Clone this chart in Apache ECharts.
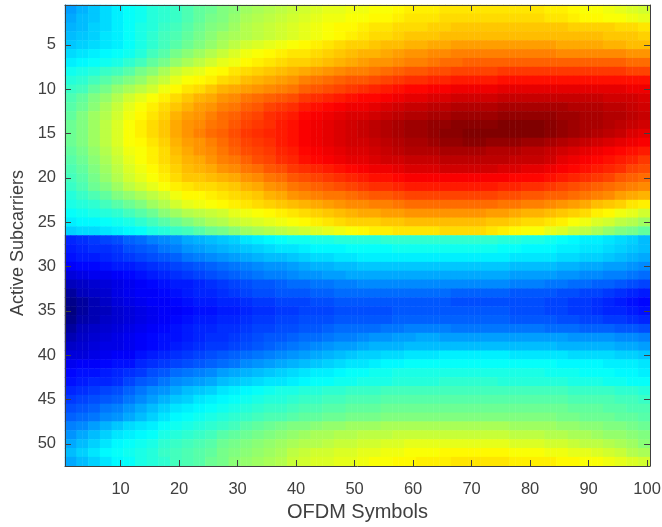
<!DOCTYPE html>
<html>
<head>
<meta charset="utf-8">
<style>html,body{margin:0;padding:0;background:#fff}#c{width:662px;height:527px}</style>
<script src="https://cdn.jsdelivr.net/npm/echarts@6/dist/echarts.min.js"></script>
</head>
<body>
<div id="c"></div>
<script>
// Values on a 0-100 colour scale; each entry covers two OFDM symbols.
const r01=[28,30,32,34,36,38,39,41,42,43,45,47,48,50,51,53,54,55,56,57,58,59,60,60,61,61,62,62,63,64,64,64,65,65,65,65,65,65,65,65,65,64,64,63,62,62,61,60,59,58];
const r02=[29,31,32,34,36,38,39,41,42,43,45,47,49,50,52,54,55,56,57,58,59,60,61,61,62,62,63,63,64,65,65,65,66,66,66,66,66,66,66,66,66,65,65,64,63,63,62,62,61,60];
const r03=[30,31,33,34,36,38,40,41,43,44,46,48,50,51,53,55,56,57,58,59,60,61,62,63,63,64,65,65,66,66,66,67,67,68,68,68,68,68,68,68,68,68,68,67,67,67,67,66,66,65];
const r04=[31,32,33,35,36,38,40,42,44,45,47,49,51,53,54,55,56,57,58,59,60,61,62,63,64,65,66,66,67,68,68,68,69,69,69,69,69,69,69,69,69,69,69,69,69,69,68,68,68,67];
const r05=[32,33,34,35,36,38,40,42,44,46,48,50,52,54,56,58,59,60,61,62,63,64,65,66,67,67,68,69,69,70,70,71,71,72,72,72,72,72,72,72,72,72,71,71,71,71,70,70,69,69];
const r06=[34,35,36,37,38,39,41,44,46,49,51,53,55,57,59,61,62,63,64,65,65,66,67,68,69,70,70,71,72,73,73,74,74,75,75,75,75,75,75,75,75,75,74,74,74,74,74,74,73,73];
const r07=[36,37,38,39,40,42,44,47,49,52,54,56,58,60,61,63,64,65,66,67,67,68,69,70,71,72,73,73,74,75,75,76,77,77,78,78,78,78,78,78,78,78,78,78,78,78,78,78,77,77];
const r08=[39,40,41,43,44,46,49,51,54,57,59,60,62,63,65,66,67,68,69,70,71,72,73,74,75,75,76,77,78,79,79,80,80,81,81,81,81,82,82,82,82,82,82,82,82,82,82,82,81,81];
const r09=[41,42,44,46,48,50,52,55,57,60,62,63,64,66,67,69,70,71,72,73,75,76,77,78,79,79,80,81,82,83,83,84,84,85,85,85,85,86,86,86,86,86,86,86,86,86,86,86,86,86];
const r10=[43,44,47,49,52,54,56,58,61,63,65,66,68,70,71,72,73,74,75,76,78,79,80,81,82,83,84,85,86,87,87,88,88,89,89,89,89,90,90,90,90,90,90,90,90,90,90,90,89,89];
const r11=[45,47,50,52,55,58,60,62,64,66,68,70,71,73,74,76,77,78,79,80,82,83,84,85,86,87,87,88,89,90,90,91,91,92,92,92,92,93,93,93,93,93,93,93,93,93,92,92,92,91];
const r12=[46,48,51,54,57,60,62,64,66,68,70,72,73,75,76,78,79,81,82,83,85,86,87,88,89,89,90,91,92,93,93,94,94,95,95,95,95,96,96,96,96,96,96,95,95,95,94,94,93,92];
const r13=[47,50,53,55,58,61,63,65,67,70,72,73,75,77,78,80,81,83,84,85,87,88,89,90,91,91,92,93,94,95,95,96,96,97,97,97,97,98,98,98,98,98,97,97,96,96,95,95,94,93];
const r14=[48,50,53,56,59,62,64,66,68,71,73,74,76,77,79,81,82,83,85,86,88,89,90,91,92,93,94,95,96,97,97,98,98,99,99,99,99,100,100,100,100,99,98,97,96,96,95,94,93,92];
const r15=[48,50,53,56,59,62,64,66,68,71,73,75,77,78,80,82,83,84,85,86,88,89,90,91,92,93,94,95,96,97,97,98,99,99,100,100,100,100,100,100,100,99,98,97,96,95,94,93,91,90];
const r16=[48,50,53,56,59,62,63,65,67,70,72,73,75,77,79,81,82,83,85,86,88,89,90,91,92,92,93,94,95,96,96,97,98,98,99,99,98,98,98,97,97,96,95,94,93,92,91,90,89,88];
const r17=[47,49,52,55,58,61,62,64,66,69,71,73,74,76,78,80,81,82,84,85,87,88,89,90,91,91,92,93,94,95,95,95,96,96,96,96,95,95,95,94,94,93,92,91,90,89,88,87,86,85];
const r18=[46,48,51,54,57,60,62,64,66,68,70,71,73,75,76,78,80,81,83,84,86,87,88,89,90,90,91,92,92,93,93,93,94,94,94,94,94,94,93,93,93,92,90,89,88,87,86,85,84,82];
const r19=[45,47,50,53,56,59,61,63,65,67,69,70,71,73,74,76,77,79,80,82,83,84,85,86,87,88,89,89,90,91,91,91,92,92,92,92,92,91,91,90,90,89,88,87,86,85,84,83,81,80];
const r20=[44,46,49,52,55,58,60,62,64,66,68,68,69,70,71,73,74,76,77,79,80,81,82,83,84,85,86,86,87,88,88,88,88,88,88,88,88,88,87,87,87,86,85,84,83,82,81,79,78,77];
const r21=[43,45,48,50,53,56,58,60,62,64,65,66,66,67,68,70,71,73,74,76,77,78,79,80,81,82,83,83,84,85,85,85,85,85,85,85,85,84,84,83,83,82,81,80,79,78,77,76,75,74];
const r22=[41,43,45,47,50,52,54,56,58,61,63,63,64,65,66,67,68,70,71,73,74,75,76,76,77,78,79,79,80,81,81,81,81,81,81,81,81,80,80,79,79,78,78,77,76,75,74,72,71,70];
const r23=[40,41,42,44,46,48,50,53,55,58,60,61,62,63,64,65,66,67,68,69,70,71,72,73,74,74,75,75,76,77,77,77,77,77,77,77,77,76,76,75,75,74,73,72,71,69,68,67,65,64];
const r24=[38,39,40,41,42,44,46,48,51,53,55,56,57,58,60,61,62,63,64,65,66,67,68,69,70,71,71,72,72,73,73,73,73,73,73,73,72,72,71,70,70,69,68,67,66,64,63,61,60,58];
const r25=[36,37,37,38,39,40,42,44,46,48,50,52,54,55,57,58,59,60,61,62,63,64,65,66,67,67,67,68,68,69,69,69,69,69,69,69,68,68,67,66,66,65,64,62,61,59,58,56,55,53];
const r26=[33,34,34,35,36,37,38,40,41,43,44,46,48,49,51,53,54,55,56,57,58,59,60,61,62,63,64,64,65,65,65,65,66,66,66,66,65,64,63,62,62,60,59,57,56,54,52,50,49,47];
const r27=[16,17,18,19,20,22,23,25,26,27,29,30,31,32,33,35,36,37,38,39,39,40,40,41,41,41,41,42,42,42,42,42,42,42,42,42,42,41,41,40,40,39,38,37,36,36,35,34,33,31];
const r28=[15,16,17,17,18,20,21,22,24,25,27,28,29,30,31,32,33,34,35,35,36,37,37,37,38,38,38,38,39,39,39,39,39,39,39,39,39,38,38,37,37,37,36,36,35,35,34,33,32,31];
const r29=[14,15,15,16,17,18,19,20,21,22,24,25,26,27,28,29,30,31,31,32,33,34,34,35,35,36,36,36,36,36,36,36,36,36,36,36,36,36,35,35,35,35,34,34,33,33,32,31,30,29];
const r30=[12,13,13,14,15,15,16,17,18,19,20,21,22,23,24,25,26,27,27,28,29,30,30,31,31,32,32,32,32,32,32,32,32,32,32,32,32,32,31,31,31,31,30,30,29,29,28,28,27,26];
const r31=[9,10,11,11,12,13,14,15,16,17,18,19,20,21,22,23,24,25,25,26,27,27,28,28,29,29,29,29,29,29,29,29,29,29,29,29,29,29,28,28,28,28,27,27,26,26,25,25,24,23];
const r32=[6,7,8,9,10,11,12,13,14,15,15,16,17,18,19,20,21,21,22,23,23,24,24,25,25,26,26,26,26,26,26,26,26,26,26,26,26,26,25,25,25,24,24,23,23,22,22,21,20,19];
const r33=[3,6,7,8,10,11,12,12,13,14,15,16,16,17,18,19,20,20,21,21,21,22,22,23,23,23,23,23,23,23,23,23,23,22,22,22,22,22,21,21,21,21,20,20,19,19,18,17,16,15];
const r34=[1,3,5,7,9,10,11,12,12,13,14,15,15,16,16,17,18,18,19,19,19,20,20,21,21,21,21,21,21,21,21,21,21,20,20,20,20,20,20,20,20,19,19,18,18,17,16,15,14,13];
const r35=[0,3,5,6,8,9,10,11,12,12,13,14,14,15,15,16,17,17,18,18,19,19,19,20,20,20,20,20,21,21,21,21,21,21,21,21,21,21,20,20,20,19,19,18,18,17,16,16,15,14];
const r36=[1,4,5,7,8,9,10,11,12,13,14,15,15,16,16,17,18,18,19,19,20,20,20,21,21,21,21,21,22,22,22,22,22,22,22,22,22,22,21,21,21,21,20,20,19,19,18,18,17,16];
const r37=[3,6,7,8,9,10,11,12,13,14,15,16,16,17,17,18,19,19,20,20,21,21,22,23,23,23,23,24,24,25,25,25,25,24,24,24,24,24,24,24,24,23,23,23,22,22,22,21,21,20];
const r38=[5,7,8,9,10,11,12,13,14,14,15,16,17,17,18,19,20,21,21,22,23,23,24,25,25,26,27,27,28,28,29,29,28,28,28,28,28,28,28,28,28,28,28,27,27,27,27,26,26,25];
const r39=[7,8,9,10,10,11,12,13,14,15,16,17,18,18,19,20,21,22,23,24,25,26,27,28,28,29,30,30,30,31,31,31,31,31,31,31,31,31,31,31,31,31,30,30,30,30,30,29,29,28];
const r40=[9,9,10,11,12,12,14,15,16,17,18,19,20,21,22,23,24,25,26,27,28,29,30,31,32,33,33,34,34,35,35,35,36,36,36,36,36,36,35,35,35,35,35,34,34,34,34,33,33,32];
const r41=[11,12,12,13,14,14,16,17,18,19,20,21,22,23,24,26,27,28,29,30,31,32,33,34,35,35,36,37,37,38,38,38,38,38,38,38,38,38,38,38,38,38,37,37,37,37,36,36,36,35];
const r42=[13,14,14,15,16,17,18,20,21,23,24,25,26,28,29,30,31,32,33,34,35,36,36,37,38,38,39,39,40,40,40,40,40,40,40,40,40,40,40,40,40,39,39,39,38,38,38,37,37,36];
const r43=[14,15,16,16,17,19,21,22,24,26,27,28,29,31,32,33,34,35,35,36,37,38,38,39,39,40,40,40,41,41,41,41,42,42,42,42,42,41,41,41,41,41,41,40,40,40,39,39,38,38];
const r44=[16,17,18,19,20,22,24,26,27,29,31,32,33,35,36,37,38,39,40,40,41,41,42,42,43,43,43,44,44,44,44,44,44,44,44,44,44,44,44,44,44,44,44,43,43,43,43,42,42,41];
const r45=[18,19,20,21,22,24,26,28,30,32,33,35,36,37,38,39,40,41,41,42,43,43,44,44,45,45,45,46,46,46,46,46,46,46,46,46,46,46,46,46,46,46,46,45,45,45,45,44,44,43];
const r46=[20,21,22,24,25,27,29,31,33,35,36,37,38,39,40,41,42,43,43,44,45,45,46,46,47,47,47,48,48,48,48,48,48,48,48,48,48,48,48,48,48,48,48,47,47,47,46,46,45,45];
const r47=[22,23,24,26,27,29,31,33,35,37,38,39,40,41,42,43,44,45,45,46,47,47,48,48,49,49,49,50,50,50,50,50,50,50,50,50,50,50,50,50,50,50,49,49,48,48,48,47,47,46];
const r48=[25,26,28,30,32,34,35,36,38,39,40,41,42,43,44,46,47,48,49,50,50,51,52,52,53,53,53,54,54,54,54,54,54,54,54,54,54,54,53,53,53,53,52,52,51,51,50,50,49,48];
const r49=[27,29,31,33,35,36,37,38,40,41,42,43,44,46,47,48,49,50,51,52,53,54,54,55,55,56,56,56,57,57,57,57,57,57,57,57,57,57,56,56,56,55,55,54,54,53,52,52,51,50];
const r50=[29,31,33,35,37,38,39,40,42,43,44,45,46,48,49,50,51,52,53,54,55,55,56,57,57,58,58,59,59,60,60,60,60,60,60,60,60,60,59,59,59,58,58,57,56,56,55,54,53,51];
const r51=[31,33,35,37,38,39,40,41,43,44,45,46,47,49,50,51,52,53,54,56,57,58,58,59,59,60,60,61,61,62,62,62,63,63,63,63,63,63,62,62,62,61,61,60,60,59,58,57,55,54];
const r52=[29,31,33,35,37,38,40,41,42,44,45,46,48,49,51,52,53,54,55,57,58,59,59,60,60,61,62,62,63,63,64,64,64,65,65,65,65,65,64,64,64,64,63,63,62,62,61,60,59,58];
const rows=[r01,r02,r03,r04,r05,r06,r07,r08,r09,r10,r11,r12,r13,r14,r15,r16,r17,r18,r19,r20,r21,r22,r23,r24,r25,r26,r27,r28,r29,r30,r31,r32,r33,r34,r35,r36,r37,r38,r39,r40,r41,r42,r43,r44,r45,r46,r47,r48,r49,r50,r51,r52];
const symbols=Array.from({length:100},(_,i)=>String(i+1));
const subcarriers=Array.from({length:52},(_,i)=>String(i+1));
const xTickLabels=['10','20','30','40','50','60','70','80','90','100'];
const yTickLabels=['5','10','15','20','25','30','35','40','45','50'];
const jet=['#000080','#0000ff','#0080ff','#00ffff','#80ff80','#ffff00','#ff8000','#ff0000','#800000'];
const xName='OFDM Symbols', yName='Active Subcarriers';

const cells=[];
rows.forEach((row,y)=>row.forEach((v,c)=>{cells.push([2*c,y,v]);cells.push([2*c+1,y,v]);}));

const ink='#404040';
const font='"Liberation Sans", Arial, sans-serif';
const isX=(i)=>xTickLabels.includes(symbols[i]);
const isY=(i)=>yTickLabels.includes(subcarriers[i]);
function axis(kind,pos,main){
  const isXA=kind==='x';
  const test=isXA?isX:isY;
  return {
    type:'category',position:pos,data:isXA?symbols:subcarriers,inverse:!isXA,z:10,
    boundaryGap:true,
    name:main?(isXA?xName:yName):'',nameLocation:'middle',nameGap:36,
    nameTextStyle:{fontFamily:font,fontSize:isXA?20:18,color:ink,padding:isXA?0:[0,15,0,0]},
    axisLine:{show:true,lineStyle:{color:ink,width:1}},
    axisTick:{show:true,inside:true,length:6,alignWithLabel:true,interval:(i)=>test(i),lineStyle:{color:ink,width:1}},
    axisLabel:{show:main,interval:(i)=>test(i),fontFamily:font,fontSize:16.5,color:ink,margin:isXA?15:9,hideOverlap:false},
    splitLine:{show:false}
  };
}
const chart=echarts.init(document.getElementById('c'),null,{renderer:'canvas'});
chart.setOption({
  animation:false,
  backgroundColor:'#fff',
  grid:{left:65,top:5,width:585,height:461,containLabel:false,outerBoundsMode:'none'},
  xAxis:[axis('x','bottom',true),axis('x','top',false)],
  yAxis:[axis('y','left',true),axis('y','right',false)],
  visualMap:{show:false,min:0,max:100,seriesIndex:0,dimension:2,inRange:{color:jet}},
  series:[{type:'heatmap',xAxisIndex:0,yAxisIndex:0,data:cells,progressive:0,itemStyle:{borderWidth:0},emphasis:{disabled:true}}]
});
</script>
</body>
</html>
